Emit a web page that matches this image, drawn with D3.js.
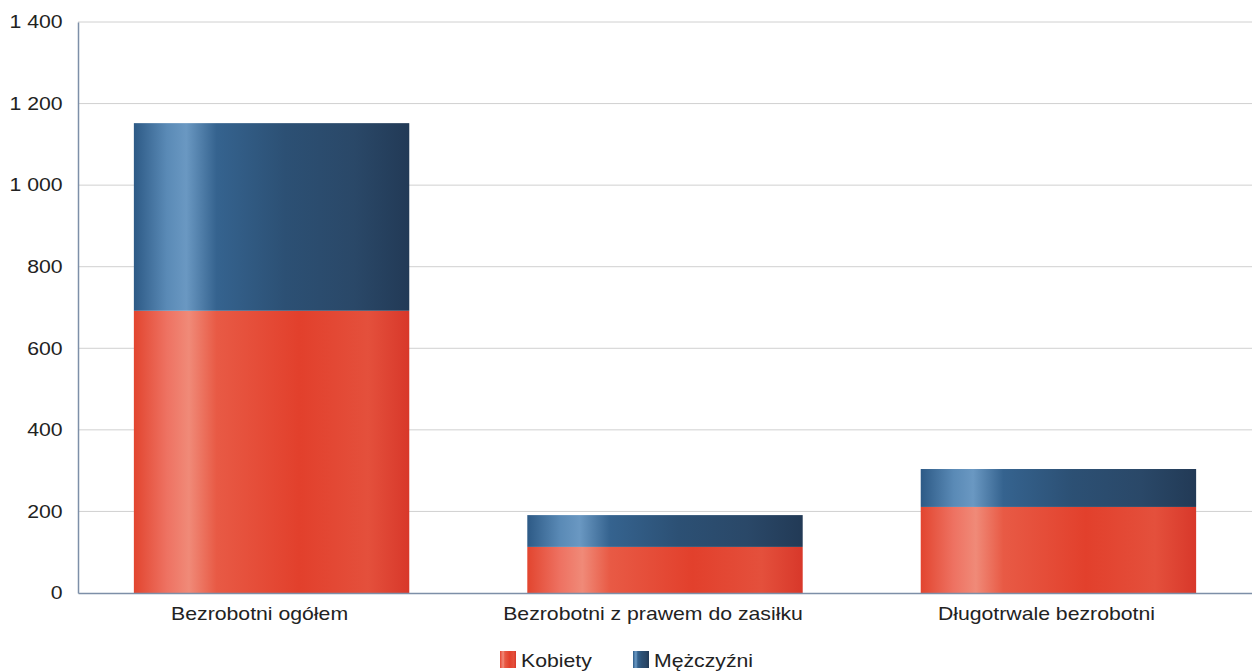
<!DOCTYPE html>
<html><head><meta charset="utf-8">
<script src="https://cdn.jsdelivr.net/npm/d3@7"></script>
<style>body{margin:0;background:#fff}svg{display:block}text{font-family:"Liberation Sans",Arial,sans-serif;fill:#222}</style>
</head><body><svg id="c" width="1252" height="672"></svg>
<script>
const categories = ["Bezrobotni ogółem", "Bezrobotni z prawem do zasiłku", "Długotrwale bezrobotni"];
const kobiety = [692, 113, 211];
const mezczyzni = [460, 78, 93];
const seriesNames = ["Kobiety", "Mężczyźni"];
const yTicks = [0, 200, 400, 600, 800, 1000, 1200, 1400];

const svg = d3.select("#c");
const m = {l: 78, r: 0, t: 22, b: 79};
const W = 1252, H = 672;
const SX = 1.18; // horizontal stretch of the scanned text
const x = d3.scaleBand().domain(categories).range([m.l, W - m.r]).paddingInner(0.3).paddingOuter(0.142);
const y = d3.scaleLinear().domain([0, 1400]).range([H - m.b, m.t]);

const defs = svg.append("defs");
function grad(id, stops) {
  const g = defs.append("linearGradient").attr("id", id).attr("x1", "0%").attr("x2", "100%");
  stops.forEach(([o, c]) => g.append("stop").attr("offset", o).attr("stop-color", c));
}
grad("gRed", [["0%", "#e2452f"], ["12%", "#ee7262"], ["20%", "#f08a78"], ["30%", "#e85a45"], ["60%", "#e2402c"], ["85%", "#e4503c"], ["100%", "#d8382a"]]);
grad("gBlue", [["0%", "#2d5a86"], ["12%", "#5a8ab6"], ["19%", "#6a98c2"], ["30%", "#35638f"], ["55%", "#2c5074"], ["80%", "#2a4868"], ["100%", "#223a56"]]);

// gridlines
svg.append("g").selectAll("line").data(yTicks.filter(d => d > 0)).join("line")
  .attr("x1", m.l).attr("x2", W).attr("y1", d => y(d)).attr("y2", d => y(d))
  .attr("stroke", "#d0d0d0").attr("stroke-width", 1);

// y axis
const ya = svg.append("g").attr("transform", `translate(${m.l},0)`)
  .call(d3.axisLeft(y).tickValues(yTicks).tickSize(0).tickPadding(13)
    .tickFormat(d => d3.format(",")(d).replace(/,/g, " ")));
ya.select(".domain").attr("stroke", "#7d8fa8").attr("stroke-width", 1.5);
ya.selectAll("text").style("font-size", "18px").attr("fill", "#222").attr("transform", `scale(${SX},1)`);

// bars
const stackData = categories.map((c, i) => ({c, k: kobiety[i], m: mezczyzni[i]}));
svg.append("g").selectAll("rect").data(stackData).join("rect")
  .attr("x", d => x(d.c)).attr("width", x.bandwidth())
  .attr("y", d => y(d.k)).attr("height", d => y(0) - y(d.k)).attr("fill", "url(#gRed)");
svg.append("g").selectAll("rect").data(stackData).join("rect")
  .attr("x", d => x(d.c)).attr("width", x.bandwidth())
  .attr("y", d => y(d.k + d.m)).attr("height", d => y(d.k) - y(d.k + d.m)).attr("fill", "url(#gBlue)");

// x axis
const xa = svg.append("g").attr("transform", `translate(0,${y(0)})`)
  .call(d3.axisBottom(x).tickSize(0).tickPadding(12));
xa.select(".domain").attr("stroke", "#7d8fa8").attr("stroke-width", 1.5);
xa.selectAll("text").style("font-size", "18px").attr("fill", "#222").attr("dy", "0.85em")
  .attr("transform", `translate(-12,0) scale(${SX},1)`);

// legend
const leg = svg.append("g");
const legX = [500, 633];
const legFill = ["url(#gRed)", "url(#gBlue)"];
seriesNames.forEach((n, i) => {
  leg.append("rect").attr("x", legX[i]).attr("y", 651).attr("width", 16).attr("height", 17).attr("fill", legFill[i]);
  leg.append("text").attr("x", (legX[i] + 21) / SX).attr("y", 667).text(n).style("font-size", "18px")
    .attr("transform", `scale(${SX},1)`);
});
</script></body></html>
